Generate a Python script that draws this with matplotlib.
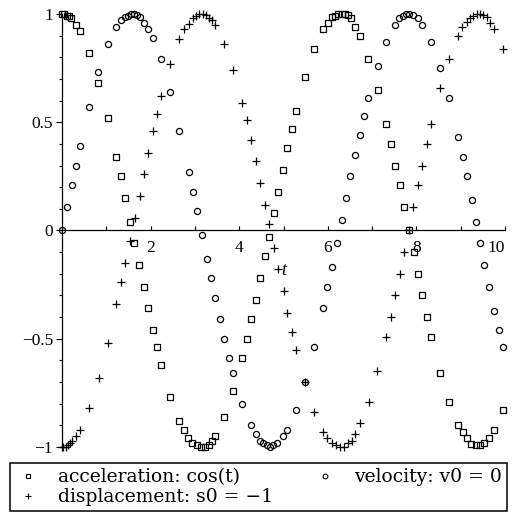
import numpy as np
import matplotlib
matplotlib.use("Agg")
import matplotlib.pyplot as plt
from matplotlib.lines import Line2D
from matplotlib.font_manager import FontProperties

# ---- data ----
acc_t = [0.00, 0.05, 0.11, 0.15, 0.21, 0.32, 0.41, 0.62, 0.82, 1.03, 1.23, 1.33, 1.43, 1.53,
         1.63, 1.74, 1.84, 1.95, 2.05, 2.14, 2.24, 2.44, 2.64, 2.75, 2.85, 2.94, 3.04, 3.13, 3.23, 3.32, 3.39, 3.45,
         3.66, 3.87, 4.07, 4.17, 4.27, 4.37, 4.47, 4.58, 4.67, 4.78, 4.88, 4.99, 5.09, 5.19, 5.28, 5.48, 5.69, 5.89, 6.00, 6.09,
         6.16, 6.24, 6.31, 6.38, 6.45, 6.52, 6.61, 6.73, 6.91, 7.13, 7.31, 7.42, 7.52, 7.62, 7.72, 7.83,
         7.95, 8.04, 8.13, 8.24, 8.33, 8.53, 8.73, 8.94, 9.05, 9.14, 9.24, 9.34, 9.44, 9.53, 9.64, 9.76, 9.95]
acc_y = [1.00, 1.00, 0.99, 0.99, 0.98, 0.95, 0.92, 0.82, 0.68, 0.52, 0.34, 0.25, 0.15, 0.04,
         -0.06, -0.16, -0.26, -0.36, -0.46, -0.54, -0.62, -0.77, -0.88, -0.92, -0.96, -0.98, -0.99, -1.00, -1.00, -0.99, -0.97, -0.95,
         -0.86, -0.74, -0.59, -0.50, -0.41, -0.32, -0.22, -0.12, -0.03, 0.08, 0.18, 0.28, 0.38, 0.47, 0.55, 0.71, 0.84, 0.93, 0.96, 0.985,
         0.99, 1.00, 1.00, 1.00, 0.995, 0.98, 0.94, 0.90, 0.79, 0.65, 0.49, 0.40, 0.30, 0.21, 0.11, 0.00,
         -0.10, -0.20, -0.30, -0.40, -0.49, -0.66, -0.79, -0.90, -0.93, -0.96, -0.985, -0.99, -0.99, -0.98, -0.96, -0.92, -0.83]

vel_t = [0.00, 0.12, 0.22, 0.32, 0.41, 0.62, 0.82, 1.03, 1.23, 1.33, 1.43, 1.50, 1.56, 1.63, 1.69, 1.75, 1.84, 1.95, 2.05, 2.24, 2.44, 2.65,
         2.87, 2.96, 3.05, 3.15, 3.27, 3.36, 3.45, 3.56, 3.66, 3.77, 3.87, 4.07, 4.27, 4.38, 4.47, 4.54, 4.62, 4.70, 4.77, 4.86, 4.98, 5.09,
         5.28, 5.48, 5.69, 5.89, 5.99, 6.09, 6.20,
         6.31, 6.41, 6.51, 6.61, 6.72, 6.81, 6.91, 7.13, 7.31, 7.52, 7.61, 7.69, 7.77, 7.84, 7.92, 8.03, 8.13, 8.33, 8.53, 8.73, 8.93,
         9.05, 9.14, 9.25, 9.35,
         9.44, 9.53, 9.65, 9.75, 9.86, 9.95]
vel_y = [0.00, 0.11, 0.21, 0.30, 0.39, 0.57, 0.73, 0.86, 0.94, 0.97, 0.985, 0.99, 1.00, 1.00, 0.995, 0.985, 0.96, 0.93, 0.89, 0.79, 0.64, 0.46,
         0.27, 0.18, 0.09, -0.02, -0.13, -0.22, -0.31, -0.41, -0.50, -0.59, -0.66, -0.80, -0.90, -0.94, -0.97, -0.98, -0.99, -1.00, -0.99, -0.98, -0.95, -0.92,
         -0.83, -0.70, -0.54, -0.36, -0.26, -0.17, -0.06,
         0.05, 0.15, 0.25, 0.35, 0.44, 0.53, 0.61, 0.76, 0.87, 0.95, 0.98, 0.99, 1.00, 1.00, 0.995, 0.98, 0.95, 0.87, 0.75, 0.61, 0.43,
         0.34, 0.25, 0.14, 0.04,
         -0.06, -0.16, -0.26, -0.37, -0.46, -0.54]

dis_t = [0.00, 0.03, 0.08, 0.14, 0.18, 0.23, 0.32, 0.41, 0.62, 0.83, 1.03, 1.23, 1.33, 1.43, 1.53,
         1.64, 1.75, 1.84, 1.95, 2.05, 2.14, 2.24, 2.44, 2.65, 2.76, 2.87, 2.95, 3.02, 3.10, 3.18, 3.25, 3.32, 3.38, 3.45,
         3.66, 3.87, 4.07, 4.17, 4.27, 4.37, 4.48, 4.58, 4.67, 4.78, 4.88, 5.00, 5.09, 5.19, 5.28, 5.48, 5.69, 5.89, 5.99, 6.09, 6.18, 6.28, 6.37,
         6.46, 6.54, 6.61, 6.73, 6.92, 7.12, 7.31, 7.42, 7.52, 7.63, 7.72, 7.83, 7.92, 8.03, 8.13, 8.24, 8.34, 8.53, 8.73, 8.93, 9.04,
         9.14, 9.21, 9.28, 9.36, 9.44, 9.51, 9.59, 9.66, 9.76, 9.96]
dis_y = [-1.00, -1.00, -1.00, -0.99, -0.98, -0.97, -0.95, -0.92, -0.82, -0.68, -0.52, -0.34, -0.24, -0.15, -0.05,
         0.06, 0.16, 0.26, 0.36, 0.46, 0.54, 0.62, 0.77, 0.885, 0.93, 0.955, 0.98, 0.99, 1.00, 1.00, 0.995, 0.98, 0.97, 0.95,
         0.86, 0.74, 0.59, 0.51, 0.42, 0.32, 0.22, 0.12, 0.03, -0.08, -0.18, -0.28, -0.38, -0.47, -0.55, -0.70, -0.84, -0.93, -0.96, -0.98, -0.99, -1.00, -1.00,
         -0.98, -0.97, -0.94, -0.89, -0.79, -0.65, -0.49, -0.40, -0.30, -0.20, -0.10, 0.00, 0.11, 0.21, 0.30, 0.40, 0.49, 0.66, 0.79, 0.90, 0.94,
         0.965, 0.98, 0.99, 1.00, 1.00, 0.995, 0.985, 0.96, 0.93, 0.84]

x_ticks = [1, 2, 3, 4, 5, 6, 7, 8, 9, 10]
x_ticklabels = ["", "2", "", "4", "", "6", "", "8", "", "10"]
y_major = [-1, -0.5, 0, 0.5, 1]
y_major_labels = ["\u22121", "\u22120.5", "0", "0.5", "1"]
y_minor = [-0.9, -0.8, -0.7, -0.6, -0.4, -0.3, -0.2, -0.1, 0.1, 0.2, 0.3, 0.4, 0.6, 0.7, 0.8, 0.9]

labels = ["acceleration: cos(t)", "displacement: s0 = \u22121", "velocity: v0 = 0"]

# ---- figure ----
W, H = 514, 517
fig = plt.figure(figsize=(W / 100, H / 100), dpi=100)
ax = fig.add_axes([62 / W, 1 - 447 / H, (505 - 62) / W, (447 - 14) / H])
ax.set_xlim(0, 10)
ax.set_ylim(-1, 1)

ax.spines["left"].set_position(("data", 0))
ax.spines["bottom"].set_position(("data", 0))
ax.spines["top"].set_visible(False)
ax.spines["right"].set_visible(False)
for s in ("left", "bottom"):
    ax.spines[s].set_linewidth(0.9)

serif = "Liberation Serif"
ax.set_xticks(x_ticks, labels=x_ticklabels, fontfamily=serif, fontsize=12.5)
ax.set_yticks(y_major, labels=y_major_labels, fontfamily=serif, fontsize=12.5)
ax.set_yticks(y_minor, minor=True)
ax.tick_params(axis="x", direction="in", length=3.2, width=0.8, pad=7)
ax.tick_params(axis="y", which="major", direction="out", length=4.0, width=0.8, pad=2.5)
ax.tick_params(axis="y", which="minor", direction="out", length=2.2, width=0.8)
ax.xaxis.get_major_ticks()[-1].label1.set_horizontalalignment("right")

ax.plot(acc_t, acc_y, ls="none", marker="s", ms=4.2, mfc="none", mec="black", mew=0.9, clip_on=False)
ax.plot(vel_t, vel_y, ls="none", marker="o", ms=4.4, mfc="none", mec="black", mew=0.9, clip_on=False)
ax.plot(dis_t, dis_y, ls="none", marker="+", ms=6, mec="black", mew=0.9, clip_on=False)

ax.text(5.0, -0.185, "t", fontfamily=serif, style="italic", fontsize=13, ha="center", va="center")

h_acc = Line2D([], [], ls="none", marker="s", ms=3.4, mfc="none", mec="black", mew=0.8)
h_vel = Line2D([], [], ls="none", marker="o", ms=3.4, mfc="none", mec="black", mew=0.8)
h_dis = Line2D([], [], ls="none", marker="+", ms=4.4, mec="black", mew=0.8)

leg = fig.legend([h_acc, h_dis, h_vel], labels, ncol=2, loc="lower left",
                 bbox_to_anchor=(10 / W, 6 / H, 497 / W, 52 / H), bbox_transform=fig.transFigure,
                 mode="expand", borderaxespad=0, fancybox=False, framealpha=1, edgecolor="black",
                 prop=FontProperties(family="DejaVu Serif", size=13.5), handlelength=1.45,
                 handletextpad=0.85, labelspacing=0.12, borderpad=0.25, columnspacing=1.0, numpoints=1)
leg.get_frame().set_linewidth(1.1)

fig.savefig("out.png", dpi=100)
